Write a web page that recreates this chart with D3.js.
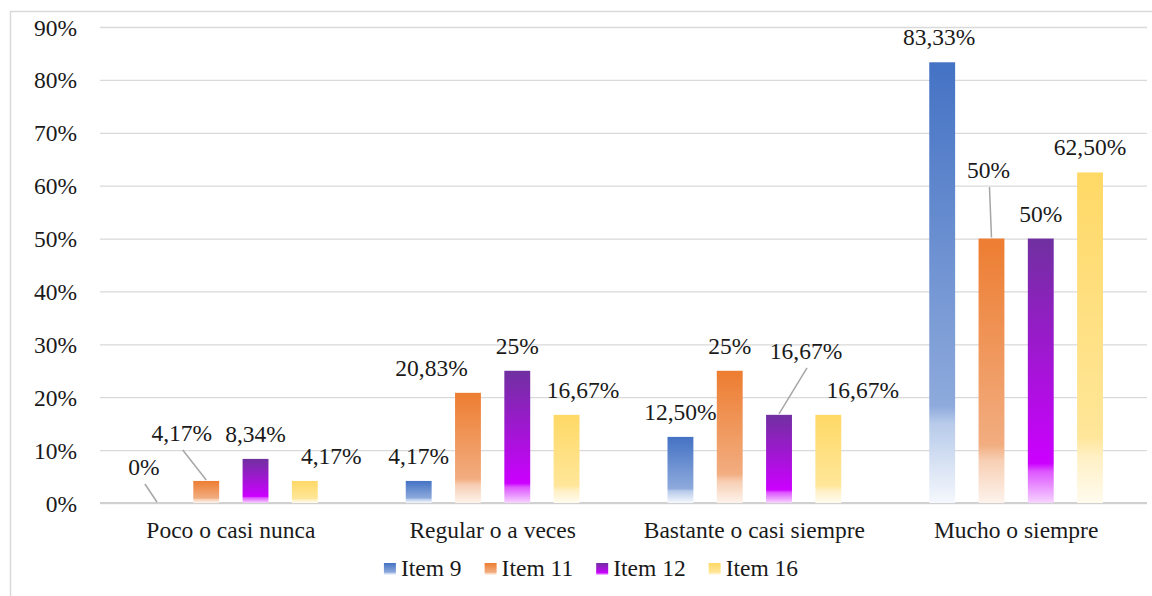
<!DOCTYPE html>
<head>
	<title>Items por categoría</title>
	<meta charset="utf-8">
<style>

body {
  margin: 0;
  background: #fff;
}

svg text {
  font-family: "Liberation Serif", "Times New Roman", serif;
  font-size: 23.5px;
  fill: #1a1a1a;
}

.axis path,
.axis line {
  fill: none;
}

.axis .tick line {
  stroke: #d9d9d9;
  stroke-width: 1.3;
}

.domain {
  display: none;
}

.leader {
  stroke: #a6a6a6;
  stroke-width: 1.5;
}

</style>
</head>
<body>
<div id="vis"></div>

<script src="https://cdn.jsdelivr.net/npm/d3@7"></script>
<script>

// Data
var categories = ["Poco o casi nunca", "Regular o a veces", "Bastante o casi siempre", "Mucho o siempre"];
var series = ["Item 9", "Item 11", "Item 12", "Item 16"];
var item9  = [0, 4.17, 12.50, 83.33];
var item11 = [4.17, 20.83, 25, 50];
var item12 = [8.34, 25, 16.67, 50];
var item16 = [4.17, 16.67, 16.67, 62.50];
var yTicks = [0, 10, 20, 30, 40, 50, 60, 70, 80, 90];

// Label nudges (dx, dy) where the labels were moved by hand, plus leader line flag
var labelNudge = [
  [[-13, -11, true], [0, 0], [0, 0], [-3, 0]],
  [[-24.5, -23, true], [-36.5, 0], [0, 0], [-3, -43.5, true]],
  [[0, 0], [0, 0], [27, -39, true], [0, 0]],
  [[26.5, 0], [16.5, 0], [34.5, 0], [0, 0]]
];

// Gradient stops per series (top colour -> pale bottom)
var gradients = [
  [[0, "#4472c4"], [0.78, "#8eaadc"], [0.82, "#b8cbea"], [1, "#f5f8fd"]],
  [[0, "#ed7d31"], [0.78, "#f2ad80"], [0.84, "#f7cfb4"], [1, "#fdf3ec"]],
  [[0, "#7030a0"], [0.85, "#cc00ff"], [0.88, "#dd55ff"], [1, "#f6d4ff"]],
  [[0, "#ffd966"], [0.8, "#ffe699"], [0.86, "#fff0c4"], [1, "#fffbee"]]
];

var values = [item9, item11, item12, item16];

var width = 1152, height = 596;
var margin = {top: 27, right: 5, bottom: 93, left: 100};

var svg = d3.select("#vis").append("svg")
    .attr("width", width)
    .attr("height", height)
    .attr("font-family", "Liberation Serif");

// Frame
svg.append("rect")
    .attr("x", 10.5)
    .attr("y", 11.5)
    .attr("width", width + 20)
    .attr("height", height)
    .attr("fill", "none")
    .attr("stroke", "#d9d9d9")
    .attr("stroke-width", 1.5);

var defs = svg.append("defs");
gradients.forEach(function(stops, i) {
  var g = defs.append("linearGradient")
      .attr("id", "grad" + i)
      .attr("x1", 0).attr("y1", 0).attr("x2", 0).attr("y2", 1);
  stops.forEach(function(s) {
    g.append("stop").attr("offset", s[0]).attr("stop-color", s[1]);
  });
});

var x0 = d3.scaleBand()
    .domain(categories)
    .range([margin.left, width - margin.right]);

var x1 = d3.scaleBand()
    .domain(series)
    .range([44, x0.bandwidth() - 44])
    .paddingInner(0.475);

var y = d3.scaleLinear()
    .domain([0, 90])
    .range([height - margin.bottom, margin.top]);

var yAxis = d3.axisLeft(y)
    .tickValues(yTicks)
    .tickSize(-(width - margin.right - margin.left))
    .tickPadding(23)
    .tickFormat(function(d) { return d + "%"; });

svg.append("g")
    .attr("class", "y axis")
    .attr("transform", "translate(" + margin.left + ",0)")
    .call(yAxis)
    .attr("font-family", null)
    .selectAll("text")
    .attr("dy", "0.34em");

// Base line a touch darker
svg.append("line")
    .attr("x1", margin.left).attr("x2", width - margin.right)
    .attr("y1", y(0)).attr("y2", y(0))
    .attr("stroke", "#d0d0d0")
    .attr("stroke-width", 2);

// Category labels
var xAxis = d3.axisBottom(x0).tickSize(0).tickPadding(18);
svg.append("g")
    .attr("class", "x axis")
    .attr("transform", "translate(0," + y(0) + ")")
    .call(xAxis)
    .attr("font-family", null);

// Bars
var groups = svg.selectAll(".cat")
    .data(categories)
    .enter()
    .append("g")
    .attr("class", "cat")
    .attr("transform", function(d) { return "translate(" + x0(d) + ",0)"; });

groups.each(function(cat, ci) {
  var g = d3.select(this);
  series.forEach(function(s, si) {
    var v = values[si][ci];
    var cx = x1(s) + x1.bandwidth() / 2;
    if (v > 0) {
      g.append("rect")
        .attr("x", x1(s))
        .attr("y", y(v))
        .attr("width", x1.bandwidth())
        .attr("height", y(0) - y(v))
        .attr("fill", "url(#grad" + si + ")");
    }
    var nudge = labelNudge[si][ci];
    var lx = cx + nudge[0];
    var ly = y(v) - 17 + nudge[1];
    if (nudge[2]) {
      g.append("line")
        .attr("class", "leader")
        .attr("x1", lx + 1).attr("y1", ly + 9)
        .attr("x2", cx).attr("y2", y(v) - 1);
    }
    g.append("text")
      .attr("class", "value-label")
      .attr("x", lx)
      .attr("y", ly)
      .attr("text-anchor", "middle")
      .text(formatPct(v));
  });
});

function formatPct(v) {
  if (Math.round(v) === v) return v + "%";
  return v.toFixed(2).replace(".", ",") + "%";
}

// Legend
var legend = svg.append("g").attr("class", "legend");
var lx = 0;
series.forEach(function(s, i) {
  var item = legend.append("g").attr("transform", "translate(" + lx + ",0)");
  item.append("rect")
    .attr("x", 0).attr("y", -13)
    .attr("width", 12).attr("height", 12)
    .attr("fill", "url(#grad" + i + ")");
  var t = item.append("text")
    .attr("x", 17)
    .attr("y", 0)
    .text(s);
  lx += 17 + t.node().getComputedTextLength() + 23;
});
var legendWidth = lx - 23;
legend.attr("transform", "translate(" + (591 - legendWidth / 2) + ",576)");

</script>
</body>
